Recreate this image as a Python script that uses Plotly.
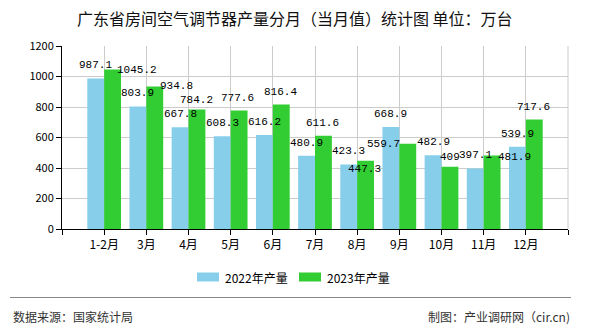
import plotly.graph_objects as go

# ---- data ----
months = ["1-2月", "3月", "4月", "5月", "6月", "7月", "8月", "9月", "10月", "11月", "12月"]
output_2022 = [987.1, 803.9, 667.8, 608.3, 616.2, 480.9, 423.3, 668.9, 482.9, 397.1, 539.9]
output_2023 = [1045.2, 934.8, 784.2, 777.6, 816.4, 611.6, 447.3, 559.7, 409, 481.9, 717.6]
label_2022 = ["987.1", "803.9", "667.8", "608.3", "616.2", "480.9", "423.3", "668.9", "482.9", "397.1", "539.9"]
label_2023 = ["1045.2", "934.8", "784.2", "777.6", "816.4", "611.6", "447.3", "559.7", "409", "481.9", "717.6"]
series_names = ["2022年产量", "2023年产量"]
y_ticks = [0, 200, 400, 600, 800, 1000, 1200]

# ---- style ----
C_2022 = "#87CEEB"
C_2023 = "#32CD32"
GRID = "#CCCCCC"
# label offsets (pixels) used by the original to avoid overlapping labels
shift_2022 = [(0, 13)] * 11
shift_2023 = [(24, 0), (22, 0), (0, 9.5), (-1.5, 12), (-0.5, 12.3), (-1, 13),
              (-1, -8.3), (-24, 0), (0, 9.5), (22, -1), (-0.5, 12.4)]

W, H = 590, 330
ML, MR, MT, MB = 62, 22, 46, 101
PW, PH = W - ML - MR, H - MT - MB


def px_x(px):
    return (px - ML) / PW


def px_y(py):
    return (H - MB - py) / PH


idx = list(range(len(months)))
n = len(months)

fig = go.Figure()
fig.add_bar(x=idx, y=output_2022, name=series_names[0], marker_color=C_2022,
            marker_line_width=0)
fig.add_bar(x=idx, y=output_2023, name=series_names[1], marker_color=C_2023,
            marker_line_width=0)

LABEL_FONT = dict(family="Liberation Mono, DejaVu Sans Mono, monospace", size=11, color="#000")
ann = []
for i in idx:
    dx, dy = shift_2022[i]
    ann.append(dict(x=i - 0.2, y=output_2022[i], xref="x", yref="y", text=label_2022[i],
                    showarrow=False, xanchor="center", yanchor="middle",
                    xshift=dx, yshift=dy, font=LABEL_FONT))
    dx, dy = shift_2023[i]
    ann.append(dict(x=i + 0.2, y=output_2023[i], xref="x", yref="y", text=label_2023[i],
                    showarrow=False, xanchor="center", yanchor="middle",
                    xshift=dx, yshift=dy, font=LABEL_FONT))

CJK = "Noto Sans CJK SC, sans-serif"
# title
ann.append(dict(x=px_x(295), y=px_y(18), xref="paper", yref="paper",
                text="广东省房间空气调节器产量分月（当月值）统计图 单位：万台",
                showarrow=False, xanchor="center", yanchor="middle",
                font=dict(family=CJK, size=16, color="#111")))
# legend text
ann.append(dict(x=px_x(223), y=px_y(277), xref="paper", yref="paper", text=series_names[0],
                showarrow=False, xanchor="left", yanchor="middle",
                font=dict(family=CJK, size=12, color="#000")))
ann.append(dict(x=px_x(325), y=px_y(277), xref="paper", yref="paper", text=series_names[1],
                showarrow=False, xanchor="left", yanchor="middle",
                font=dict(family=CJK, size=12, color="#000")))
# footer
ann.append(dict(x=px_x(11), y=px_y(316), xref="paper", yref="paper", text="数据来源：国家统计局",
                showarrow=False, xanchor="left", yanchor="middle",
                font=dict(family=CJK, size=12, color="#333")))
ann.append(dict(x=px_x(572), y=px_y(316), xref="paper", yref="paper", text="制图：产业调研网（cir.cn)",
                showarrow=False, xanchor="right", yanchor="middle",
                font=dict(family=CJK, size=12, color="#333")))

shapes = [
    # legend swatches
    dict(type="rect", xref="paper", yref="paper", x0=px_x(197), x1=px_x(219),
         y0=px_y(281.5), y1=px_y(272.5), fillcolor=C_2022, line_width=0),
    dict(type="rect", xref="paper", yref="paper", x0=px_x(299), x1=px_x(321),
         y0=px_y(281.5), y1=px_y(272.5), fillcolor=C_2023, line_width=0),
    # separator line
    dict(type="line", xref="paper", yref="paper", x0=px_x(10), x1=px_x(571),
         y0=px_y(297.5), y1=px_y(297.5), line=dict(color="#888888", width=1.2)),
    # right border
    dict(type="line", xref="paper", yref="paper", x0=1, x1=1, y0=0, y1=1,
         line=dict(color=GRID, width=1), layer="below"),
]

fig.update_layout(
    width=W, height=H,
    margin=dict(l=ML, r=MR, t=MT, b=MB),
    paper_bgcolor="white", plot_bgcolor="white",
    barmode="group", bargap=0.2, bargroupgap=0,
    showlegend=False,
    annotations=ann, shapes=shapes,
    xaxis=dict(range=[-1, n], tickmode="array", tickvals=[-1] + idx + [n],
               ticktext=[""] + months + [""], showgrid=True, gridcolor=GRID, gridwidth=1,
               showline=True, linecolor="#000", linewidth=1, ticks="outside", ticklen=5,
               tickcolor="#000", zeroline=False,
               tickfont=dict(family=CJK, size=12, color="#000")),
    yaxis=dict(range=[0, 1200], tickmode="array", tickvals=y_ticks, showgrid=True,
               gridcolor=GRID, gridwidth=1, showline=True, linecolor="#000", linewidth=1,
               ticks="outside", ticklen=5, tickcolor="#000", zeroline=False,
               tickfont=dict(family=CJK, size=11, color="#000")),
    font=dict(family=CJK),
)

fig.write_html("out.html")
